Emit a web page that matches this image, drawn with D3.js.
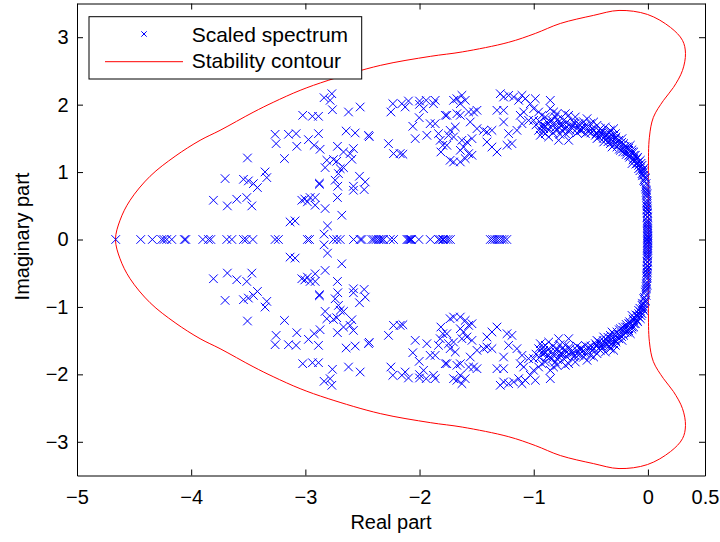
<!DOCTYPE html>
<html><head><meta charset="utf-8">
<script src="https://cdn.jsdelivr.net/npm/d3@7"></script>
<style>
body{margin:0;background:#fff}
text{font-family:"Liberation Sans",Arial,Helvetica,sans-serif}
</style>
</head><body>
<svg id="chart" width="720" height="542"></svg>
<script>
// ---------------- data ----------------
const xTicks = [-5, -4, -3, -2, -1, 0, 0.5];
const yTicks = [-3, -2, -1, 0, 1, 2, 3];
const legendLabels = ["Scaled spectrum", "Stability contour"];

// eigenvalues lying on the real axis
const realEigs = [-4.661, -4.442, -4.340, -4.258, -4.238, -4.214, -4.170, -4.060, -4.047,
  -3.898, -3.849, -3.828, -3.688, -3.644, -3.542, -3.519, -3.460, -3.265, -3.236,
  -2.982, -2.964, -2.754, -2.724, -2.695, -2.578, -2.520, -2.505, -2.417, -2.400,
  -2.380, -2.360, -2.345, -2.330, -2.315, -2.257, -2.228, -2.110, -2.100, -2.090,
  -2.080, -2.070, -2.006, -1.906, -1.833, -1.820, -1.800, -1.790, -1.770, -1.750,
  -1.730, -1.380, -1.360, -1.340, -1.320, -1.300, -1.280, -1.260, -1.236, -0.002];

// complex eigenvalues in the upper half-plane [re, im]; their conjugates are drawn too
const upperEigs = [
  [-2.836,2.103],[-2.768,2.162],[-2.783,2.064],[-2.763,1.925],[-3.023,1.842],[-2.938,1.827],
  [-2.885,1.827],[-2.622,1.891],[-2.520,1.965],[-3.265,1.560],[-3.256,1.422],[-3.148,1.560],
  [-3.081,1.570],[-3.075,1.382],[-2.973,1.481],[-2.923,1.397],[-2.885,1.570],[-2.871,1.338],
  [-2.643,1.609],[-2.564,1.580],[-2.447,1.545],[-2.440,1.525],[-2.719,1.382],[-2.666,1.298],
  [-2.608,1.274],[-2.593,1.190],[-2.579,1.348],[-2.812,1.175],[-2.827,1.066],[-2.754,1.185],
  [-2.725,1.160],[-2.695,1.051],[-2.666,1.066],[-2.710,0.977],[-2.739,0.879],[-2.877,0.819],
  [-2.877,0.835],[-2.526,0.938],[-2.476,0.854],[-2.485,0.740],[-2.579,0.790],[-2.579,0.730],
  [-2.716,0.790],[-2.719,0.622],[-3.703,0.903],[-3.542,0.893],[-3.499,0.869],[-3.455,0.829],
  [-3.420,0.770],[-3.353,1.002],[-3.338,0.918],[-3.507,1.209],[-3.183,1.200],[-3.601,0.597],
  [-3.683,0.498],[-3.513,0.622],[-3.469,0.498],[-3.805,0.582],[-3.031,0.582],[-3.005,0.600],
  [-2.982,0.558],[-2.958,0.622],[-2.914,0.622],[-2.914,0.508],[-2.827,0.459],[-3.134,0.261],
  [-3.090,0.276],[-2.681,0.360],[-2.806,0.202],[-2.836,0.079],
  [-2.272,1.422],[-2.228,1.274],[-2.170,1.274],[-2.146,1.264],[-2.251,1.891],[-2.234,2.014],
  [-2.155,2.014],[-2.126,1.965],[-2.097,2.054],[-2.000,2.054],[-2.000,2.004],[-1.965,1.940],
  [-1.942,2.064],[-2.003,1.807],[-2.059,1.679],[-2.038,1.496],[-1.936,1.545],[-1.907,1.718],
  [-1.863,1.718],[-1.878,2.014],[-1.863,2.064],[-1.834,1.570],[-1.819,1.471],[-1.796,1.397],
  [-1.813,1.298],[-1.775,1.842],[-1.761,1.842],[-1.746,1.545],[-1.761,1.397],[-1.732,1.175],
  [-1.732,1.619],
  [-1.702,2.064],[-1.673,2.088],[-1.629,2.138],[-1.600,2.064],[-1.643,2.014],[-1.673,1.866],
  [-1.643,1.842],[-1.570,1.891],[-1.527,1.891],[-1.497,1.916],[-1.556,1.743],[-1.497,1.644],
  [-1.439,1.619],[-1.410,1.595],[-1.366,1.619],[-1.687,1.669],[-1.702,1.521],[-1.629,1.471],
  [-1.585,1.446],[-1.541,1.496],[-1.614,1.372],[-1.643,1.323],[-1.570,1.274],[-1.541,1.249],
  [-1.600,1.200],[-1.702,1.150],[-1.643,1.150],
  [-1.293,2.162],[-1.264,2.113],[-1.220,2.138],[-1.176,2.113],[-1.132,2.064],[-1.103,2.138],
  [-1.074,2.088],[-1.322,1.916],[-1.264,1.916],[-1.264,1.743],[-1.220,1.570],[-1.410,1.446],
  [-1.366,1.372],[-1.322,1.298],[-1.234,1.397],[-1.191,1.422],[-1.147,1.619],[-1.103,1.718],
  [-1.118,1.842],[-1.088,1.891],[-1.030,2.014],[-1.001,1.940],[-0.986,2.088],[-1.045,1.767],
  [-1.001,1.767],[-0.957,1.891],[-0.928,1.842],[-0.855,2.064],[-0.855,1.940],[-0.826,1.891],
  [-0.796,1.866],[-0.898,1.817],[-0.928,1.693],[-0.942,1.545],[-0.898,1.570],[-0.869,1.521],
  [-0.855,1.669],[-0.826,1.718],[-0.796,1.619],[-0.782,1.471],[-0.767,1.693],[-0.738,1.767],
  [-0.723,1.866],[-0.694,1.842],[-0.709,1.669],[-0.694,1.471],[-0.665,1.693],[-0.636,1.817],
  [-0.621,1.644],[-0.592,1.619],[-0.563,1.743],[-0.533,1.792],[-0.548,1.570],[-0.519,1.595],
  [-0.504,1.718],[-0.475,1.743],[-0.446,1.693],[-0.431,1.619],[-0.417,1.644],[-0.460,1.545],
  [-0.446,1.496],[-0.402,1.545],[-0.387,1.446],[-0.358,1.570],[-0.358,1.496],[-0.329,1.619],
  [-0.300,1.644],[-0.329,1.422],[-0.300,1.446],[-0.314,1.372],[-0.285,1.496],[-0.271,1.372],
  [-0.256,1.471],[-0.241,1.323],[-0.212,1.422],[-0.197,1.298],[-0.183,1.372],[-0.168,1.249],
  [-0.154,1.397],[-0.139,1.298],[-0.124,1.200],[-0.110,1.249],[-0.139,1.126],[-0.095,1.126],
  [-0.081,1.051],[-0.066,1.175],[-0.051,0.977],[-0.037,0.879],[-0.037,1.051],[-0.022,0.780],
  [-0.008,0.681],[-0.008,0.582],[-0.006,0.484],[-0.004,0.385],[-0.004,0.286],[-0.003,0.187],
  [-0.002,0.089],
  [-0.957,1.619],[-0.913,1.644],[-0.884,1.743],[-0.840,1.767],[-0.811,1.817],[-0.782,1.743],
  [-0.753,1.619],[-0.723,1.570],[-0.680,1.619],[-0.650,1.743],[-0.607,1.718],[-0.577,1.669],
  [-0.490,1.644],[-0.402,1.619],[-0.373,1.669],[-0.344,1.521],[-0.314,1.545],[-0.285,1.570],
  [-0.271,1.446],[-0.241,1.422],[-0.227,1.496],[-0.212,1.348],[-0.183,1.298],[-0.168,1.323],
  [-0.154,1.249],[-0.124,1.298],[-0.110,1.175],[-0.095,1.200],[-0.081,1.150],[-0.066,1.076],
  [-0.051,1.101],[-0.045,1.027],[-0.034,0.953],[-0.022,0.903],[-0.016,0.829],[-0.013,0.730],
  [-0.010,0.632],[-0.008,0.533],[-0.006,0.434],[-0.004,0.336],[-0.004,0.237],[-0.003,0.138],
  [-0.002,0.040],
  [-0.98,1.70],[-0.95,1.75],[-0.92,1.60],[-0.90,1.68],[-0.87,1.62],[-0.86,1.75],[-0.83,1.58],
  [-0.81,1.66],[-0.79,1.78],[-0.77,1.56],[-0.75,1.70],[-0.73,1.64],[-0.71,1.74],[-0.69,1.60],
  [-0.67,1.66],[-0.64,1.72],[-0.62,1.58],[-0.60,1.70],[-0.58,1.62],[-0.55,1.68],[-0.52,1.66],
  [-0.50,1.58],[-0.47,1.62],[-0.45,1.57],[-0.43,1.52],[-0.41,1.58],[-0.39,1.50],[-0.37,1.54],
  [-0.35,1.45],[-0.34,1.58],[-0.32,1.48],[-0.30,1.40],[-0.28,1.52],[-0.26,1.40],[-0.25,1.34],
  [-0.23,1.44],[-0.22,1.30],[-0.20,1.38],[-0.19,1.26],[-0.17,1.35],[-0.16,1.22],[-0.14,1.33],
  [-0.13,1.18],[-0.12,1.25],[-0.105,1.12],[-0.09,1.22],[-0.08,1.10],[-0.07,1.02],[-0.06,1.13],
  [-0.05,0.95],[-0.04,1.00],[-0.03,0.86],[-0.025,0.92],[-0.02,0.75],[-0.015,0.70],[-0.012,0.66],
  [-0.01,0.55],[-0.009,0.50],[-0.007,0.45],[-0.006,0.40],[-0.005,0.33],[-0.004,0.26],
  [-0.004,0.21],[-0.003,0.16],[-0.003,0.11],[-0.002,0.06],[-0.001,0.02]
];

// stability contour, upper half [re, im] (the curve is symmetric about the real axis)
const contourUpper = [[-4.663,0],[-4.623,0.286],[-4.535,0.582],[-4.360,0.938],[-4.141,1.234],
  [-3.922,1.471],[-3.747,1.619],[-3.458,1.886],[-3.282,2.034],[-3.046,2.212],[-2.800,2.360],
  [-2.344,2.582],[-1.906,2.716],[-1.626,2.782],[-1.223,2.923],[-0.986,3.056],[-0.767,3.204],
  [-0.478,3.323],[-0.253,3.397],[-0.004,3.338],[0.198,3.145],[0.303,2.953],[0.329,2.760],
  [0.303,2.508],[0.224,2.256],[0.137,2.064],[0.048,1.812],[0.013,1.516],[0.004,1.027],[0.004,0]];

// ---------------- chart ----------------
const svg = d3.select("#chart");
const L = 77, R = 705, T = 3.5, B = 475.5;
const x = d3.scaleLinear().domain([-5, 0.5]).range([L, R]);
const y = d3.scaleLinear().domain([-3.5, 3.5]).range([B, T]);
const fs = 20, fsLeg = 21;
const fmt = d => d < 0 ? "\u2212" + Math.abs(d) : String(d);

// contour
const contour = contourUpper.concat(contourUpper.slice(1, -1).reverse().map(([r, i]) => [r, -i]));
svg.append("path")
  .attr("d", d3.line().x(d => x(d[0])).y(d => y(d[1])).curve(d3.curveCatmullRomClosed.alpha(0.5))(contour))
  .attr("fill", "none").attr("stroke", "#ff0000").attr("stroke-width", 1);

// spectrum points
const pts = realEigs.map(r => [r, 0])
  .concat(upperEigs)
  .concat(upperEigs.map(([r, i]) => [r, -i]));
const m = 4.3;
const xPath = `M${-m},${-m}L${m},${m}M${-m},${m}L${m},${-m}`;
svg.append("g").selectAll("path").data(pts).join("path")
  .attr("transform", d => `translate(${x(d[0])},${y(d[1])})`)
  .attr("d", xPath).attr("fill", "none").attr("stroke", "#0000ff").attr("stroke-width", 1);

// axes
function styleAxis(g) {
  g.selectAll("path.domain").attr("stroke", "#000").attr("stroke-width", 1);
  g.selectAll(".tick line").attr("stroke", "#000");
  g.selectAll("text").attr("fill", "#000").style("font-size", fs + "px")
    .style("font-family", '"Liberation Sans",Arial,Helvetica,sans-serif');
}
svg.append("g").attr("transform", `translate(0,${B})`)
  .call(d3.axisBottom(x).tickValues(xTicks).tickFormat(fmt).tickSize(-6).tickSizeOuter(0).tickPadding(14.5))
  .call(styleAxis);
svg.append("g").attr("transform", `translate(0,${T})`)
  .call(d3.axisTop(x).tickValues(xTicks).tickFormat("").tickSize(-6).tickSizeOuter(0))
  .call(styleAxis);
svg.append("g").attr("transform", `translate(${L},0)`)
  .call(d3.axisLeft(y).tickValues(yTicks).tickFormat(fmt).tickSize(-6).tickSizeOuter(0).tickPadding(8.5))
  .call(styleAxis);
svg.append("g").attr("transform", `translate(${R},0)`)
  .call(d3.axisRight(y).tickValues(yTicks).tickFormat("").tickSize(-6).tickSizeOuter(0))
  .call(styleAxis);

// axis titles
svg.append("text").attr("x", (L + R) / 2).attr("y", 529).attr("text-anchor", "middle")
  .style("font-size", fs + "px").text("Real part");
svg.append("text").attr("transform", `translate(28.5,${(T + B) / 2 - 3}) rotate(-90)`)
  .attr("text-anchor", "middle").style("font-size", fs + "px").text("Imaginary part");

// legend
const lg = svg.append("g");
lg.append("rect").attr("x", 89).attr("y", 16.7).attr("width", 272.7).attr("height", 62.3)
  .attr("fill", "#fff").attr("stroke", "#000").attr("stroke-width", 1);
lg.append("path").attr("transform", "translate(144,34)")
  .attr("d", "M-2.7,-2.7L2.7,2.7M-2.7,2.7L2.7,-2.7").attr("stroke", "#0000ff").attr("fill", "none");
lg.append("line").attr("x1", 105).attr("x2", 183).attr("y1", 61.7).attr("y2", 61.7)
  .attr("stroke", "#ff0000").attr("stroke-width", 1);
lg.selectAll("text.lbl").data(legendLabels).join("text").attr("class", "lbl")
  .attr("x", 191.7).attr("y", (d, i) => i === 0 ? 41.7 : 68.3)
  .style("font-size", fsLeg + "px").text(d => d);
</script>
</body></html>
